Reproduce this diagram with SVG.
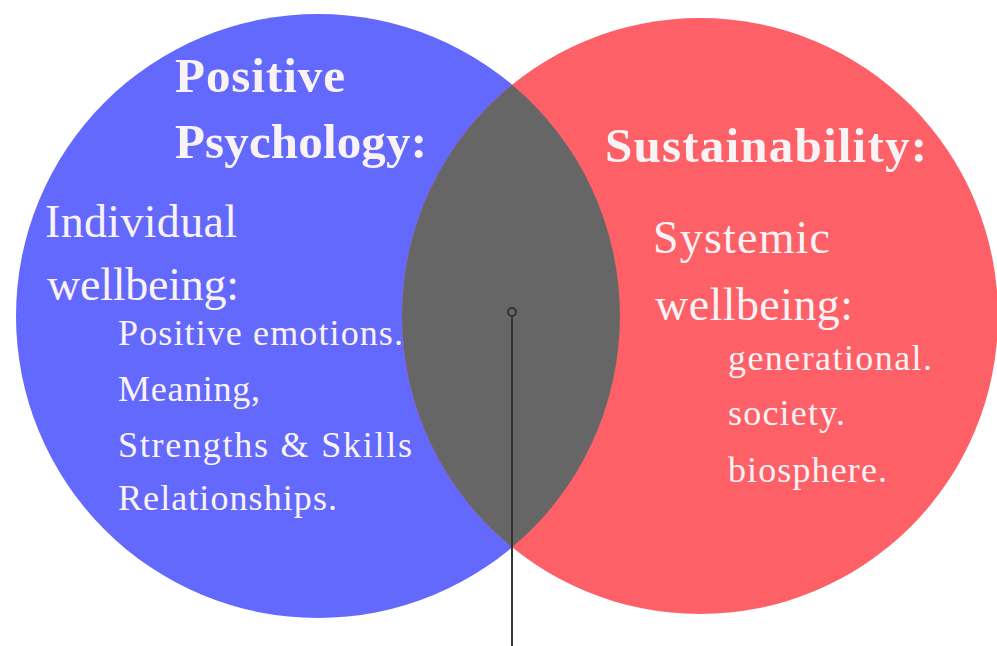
<svg xmlns="http://www.w3.org/2000/svg" width="997" height="646" viewBox="0 0 997 646">
  <style>
    .t { fill: #faf3f6; font-family: "Liberation Serif", "DejaVu Serif", serif; }
    .title { font-weight: bold; font-size: 49px; }
    .sub { font-size: 46px; }
    .item { font-size: 36px; }
  </style>
  <rect width="997" height="646" fill="#ffffff"/>
  <g id="positive-psychology">
    <circle cx="318" cy="316" r="302" fill="#6469fd"/>
  </g>
  <g id="sustainability">
    <circle cx="700" cy="316" r="298" fill="#fe6068"/>
  </g>
  <g id="overlap">
    <path d="M512.1,84.7 A298,298 0 0 0 512.1,547.3 A302,302 0 0 0 512.1,84.7 Z" fill="#666666"/>
  </g>
  <g id="positive-psychology-text">
    <text class="t title" x="175" y="92" textLength="170" lengthAdjust="spacing">Positive</text>
    <text class="t title" x="175" y="158" textLength="252" lengthAdjust="spacing">Psychology:</text>
    <text class="t sub" x="45" y="237" textLength="192" lengthAdjust="spacing">Individual</text>
    <text class="t sub" x="47" y="300" textLength="192" lengthAdjust="spacing">wellbeing:</text>
    <text class="t item" x="118" y="345" textLength="285" lengthAdjust="spacing">Positive emotions.</text>
    <text class="t item" x="118" y="401" textLength="142" lengthAdjust="spacing">Meaning,</text>
    <text class="t item" x="118" y="457" textLength="294" lengthAdjust="spacing">Strengths &amp; Skills</text>
    <text class="t item" x="118" y="510" textLength="219" lengthAdjust="spacing">Relationships.</text>
  </g>
  <g id="sustainability-text">
    <text class="t title" x="605" y="162" textLength="322" lengthAdjust="spacing">Sustainability:</text>
    <text class="t sub" x="653" y="253" textLength="177" lengthAdjust="spacing">Systemic</text>
    <text class="t sub" x="655" y="320" textLength="198" lengthAdjust="spacing">wellbeing:</text>
    <text class="t item" x="728" y="370" textLength="204" lengthAdjust="spacing">generational.</text>
    <text class="t item" x="728" y="425" textLength="117" lengthAdjust="spacing">society.</text>
    <text class="t item" x="728" y="482" textLength="159" lengthAdjust="spacing">biosphere.</text>
  </g>
  <g id="connectors">
    <line x1="512" y1="316" x2="512" y2="646" stroke="#333333" stroke-width="2"/>
    <circle cx="512" cy="312" r="4" fill="none" stroke="#333333" stroke-width="2"/>
  </g>
</svg>
